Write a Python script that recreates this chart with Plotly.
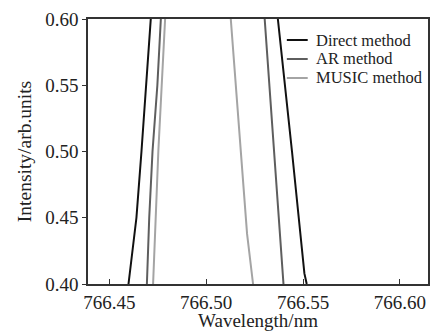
import plotly.graph_objects as go

# Intensity levels (arb. units) and corresponding wavelengths (nm) for each method
intensity = [0.40, 0.45, 0.50, 0.55, 0.60, 1.00, 0.60, 0.50, 0.408, 0.40]
direct_wl = [766.4599, 766.4640, 766.4666, 766.4689, 766.4714, 766.5040,
             766.5370, 766.5443, 766.5507, 766.5519]

intensity_ar = [0.40, 0.45, 0.50, 0.55, 0.60, 1.00, 0.60, 0.50, 0.40]
ar_wl = [766.4694, 766.4706, 766.4723, 766.4748, 766.4766, 766.5030,
         766.5302, 766.5351, 766.5399]

intensity_music = [0.40, 0.50, 0.60, 1.00, 0.60, 0.50, 0.438, 0.40]
music_wl = [766.4726, 766.4753, 766.4788, 766.4960, 766.5127, 766.5179,
            766.5211, 766.5242]

x_ticks = [766.45, 766.50, 766.55, 766.60]
y_ticks = [0.40, 0.45, 0.50, 0.55, 0.60]

series_names = ["Direct method", "AR method", "MUSIC method"]
series_colors = ["#111111", "#5e5e5e", "#a4a4a4"]

FONT = "Liberation Serif"

fig = go.Figure()
for name, xs, ys, col in zip(series_names,
                             [direct_wl, ar_wl, music_wl],
                             [intensity, intensity_ar, intensity_music],
                             series_colors):
    fig.add_trace(go.Scatter(x=xs, y=ys, mode="lines", name=name,
                             line=dict(color=col, width=2), showlegend=False))

# Compact legend drawn in paper coordinates (plot area: 342 x 265 px)
PW, PH = 342.0, 265.0
leg_x0, leg_x1, leg_tx = (288 - 88) / PW, (309 - 88) / PW, (315 - 88) / PW
row_y = [40.0, 59.0, 78.0]
for name, col, ry in zip(series_names, series_colors, row_y):
    yp = 1 - (ry - 19) / PH
    fig.add_shape(type="line", xref="paper", yref="paper",
                  x0=leg_x0, x1=leg_x1, y0=yp, y1=yp,
                  line=dict(color=col, width=2))
    fig.add_annotation(xref="paper", yref="paper", x=leg_tx, y=yp,
                       xanchor="left", yanchor="middle", showarrow=False,
                       text=name, font=dict(family=FONT, size=16.5, color="#222222"))

fig.update_layout(
    width=432, height=331,
    margin=dict(l=88, r=2, t=19, b=47),
    paper_bgcolor="white", plot_bgcolor="white",
    font=dict(family=FONT, size=19, color="#222222"),
    showlegend=False,
    xaxis=dict(range=[766.439, 766.6145], tickvals=x_ticks,
               ticktext=[f"{v:.2f}" for v in x_ticks],
               ticks="inside", ticklen=5, tickwidth=1.2, tickcolor="#333333",
               showline=True, linecolor="#333333", linewidth=1.5, mirror=True,
               showgrid=False, zeroline=False,
               title=dict(text="Wavelength/nm", standoff=3, font=dict(size=19))),
    yaxis=dict(range=[0.40, 0.60], tickvals=y_ticks,
               ticktext=[f"{v:.2f}" for v in y_ticks],
               ticks="outside", ticklen=4, tickwidth=1.2, tickcolor="#333333",
               showline=True, linecolor="#333333", linewidth=1.5, mirror=True,
               showgrid=False, zeroline=False,
               title=dict(text="Intensity/arb.units", standoff=8, font=dict(size=19.5))),
)

fig.write_html("out.html")
